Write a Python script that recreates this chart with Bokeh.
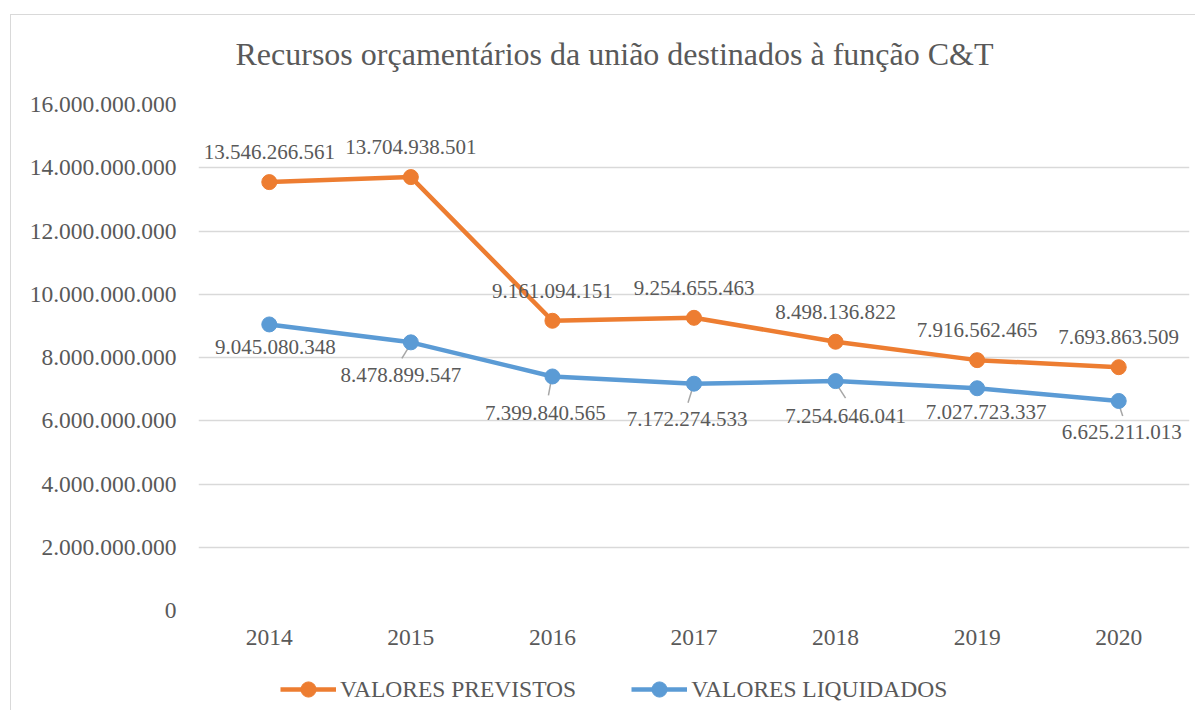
from bokeh.plotting import figure
from bokeh.layouts import column
from bokeh.models import (ColumnDataSource, LabelSet, Label, Legend, LegendItem,
                          Range1d, FixedTicker)
from bokeh.embed import file_html
from bokeh.resources import INLINE
from bokeh.core.properties import value

# ---------------- data ----------------
title_text = "Recursos orçamentários da união destinados à função C&T"
years = ["2014", "2015", "2016", "2017", "2018", "2019", "2020"]
previstos = [13546266561, 13704938501, 9161094151, 9254655463, 8498136822, 7916562465, 7693863509]
liquidados = [9045080348, 8478899547, 7399840565, 7172274533, 7254646041, 7027723337, 6625211013]
series_names = ["VALORES PREVISTOS", "VALORES LIQUIDADOS"]
y_ticks = [0, 2000000000, 4000000000, 6000000000, 8000000000,
           10000000000, 12000000000, 14000000000, 16000000000]

# ---------------- styles / positions ----------------
ORANGE = "#ED7D31"
BLUE = "#5B9BD5"
TXT = "#595959"
GRID = "#D9D9D9"
FONT = "Liberation Serif"

# label offsets in screen px (x right, y up)
prev_dx = [0, 0, 0, 0, 0, 0, 0]
prev_dy = [30, 30, 30, 30, 30, 30, 30]
liq_dx = [6, -10, -7, -7, 10, 9, 3]
liq_dy = [-23, -33, -37, -35, -35, -24, -31]
# leader lines (index, start dx, start dy-down, end dx, end dy-down) in px
leaders = [(1, -1, 3, -9, 16), (2, -1, 3, -4, 19), (3, -1, 3, -6, 19),
           (4, 1, 3, 10, 17), (6, 0, 3, 4, 15)]


def fmt(v):
    return f"{int(v):,}".replace(",", ".")


W = 1184
ML, MR, MT, MB = 187, 6, 20, 45
FRAME_H = 506
H = MT + FRAME_H + MB
HT = 69   # title strip
HL = 55   # legend strip
YMAX = y_ticks[-1]
frame_w = W - ML - MR
x_per_px = 7.0 / frame_w
y_per_px = YMAX / FRAME_H

xs = list(range(len(years)))


def strip(height):
    f = figure(width=W, height=height, output_backend="svg", toolbar_location=None,
               x_range=Range1d(0, 1), y_range=Range1d(0, 1),
               min_border=0, min_border_left=0, min_border_right=0,
               min_border_top=0, min_border_bottom=0)
    f.axis.visible = False
    f.grid.visible = False
    f.outline_line_color = None
    f.background_fill_color = "white"
    f.border_fill_color = "white"
    return f


# ---------------- title strip ----------------
p0 = strip(HT)
p0.add_layout(Label(x=37, y=31, x_units="screen", y_units="screen",
                    text=title_text, text_font=FONT, text_font_size="32px",
                    text_color=TXT, text_align="left", text_baseline="middle"))

# ---------------- main chart ----------------
p = figure(width=W, height=H, output_backend="svg", toolbar_location=None,
           x_range=Range1d(-0.5, len(years) - 0.5), y_range=Range1d(0, YMAX),
           min_border_left=ML, min_border_right=MR, min_border_top=MT,
           min_border_bottom=MB)
p.outline_line_color = None
p.background_fill_color = "white"
p.border_fill_color = "white"

# axes
p.xaxis.ticker = FixedTicker(ticks=xs)
p.xaxis.major_label_overrides = {i: y for i, y in enumerate(years)}
p.yaxis.ticker = FixedTicker(ticks=y_ticks)
p.yaxis.major_label_overrides = {t: fmt(t) for t in y_ticks}
for ax in (p.xaxis[0], p.yaxis[0]):
    ax.axis_line_color = None
    ax.major_tick_line_color = None
    ax.minor_tick_line_color = None
    ax.major_tick_out = 0
    ax.major_tick_in = 0
    ax.major_label_text_font = FONT
    ax.major_label_text_font_size = "23.5px"
    ax.major_label_text_color = TXT
p.yaxis.major_label_standoff = 22
p.xaxis.major_label_standoff = 19
p.xgrid.grid_line_color = None
p.ygrid.grid_line_color = GRID
p.ygrid.grid_line_width = 1.3
p.ygrid.ticker = FixedTicker(ticks=y_ticks)

# leader lines
lx0, ly0, lx1, ly1 = [], [], [], []
for i, sdx, sdy, edx, edy in leaders:
    lx0.append(xs[i] + sdx * x_per_px)
    ly0.append(liquidados[i] - sdy * y_per_px)
    lx1.append(xs[i] + edx * x_per_px)
    ly1.append(liquidados[i] - edy * y_per_px)
p.segment(x0=lx0, y0=ly0, x1=lx1, y1=ly1, line_color="#A6A6A6", line_width=1.5)

src_p = ColumnDataSource(dict(x=xs, y=previstos, t=[fmt(v) for v in previstos],
                              dx=prev_dx, dy=prev_dy))
src_l = ColumnDataSource(dict(x=xs, y=liquidados, t=[fmt(v) for v in liquidados],
                              dx=liq_dx, dy=liq_dy))

p.line("x", "y", source=src_p, line_color=ORANGE, line_width=4.5, line_join="round")
p.scatter("x", "y", source=src_p, size=15, fill_color=ORANGE, line_color=ORANGE)
p.line("x", "y", source=src_l, line_color=BLUE, line_width=4.5, line_join="round")
p.scatter("x", "y", source=src_l, size=15, fill_color=BLUE, line_color=BLUE)

for src in (src_p, src_l):
    ls = LabelSet(x="x", y="y", text="t", x_offset="dx", y_offset="dy", source=src,
                  text_font=value(FONT), text_font_size=value("21px"),
                  text_color=TXT, text_align="center", text_baseline="middle")
    p.add_layout(ls)

# ---------------- legend strip ----------------
p2 = strip(HL)
nan = [float("nan")]
l1 = p2.line(nan, nan, line_color=ORANGE, line_width=4.5)
l1s = p2.scatter(nan, nan, size=15, fill_color=ORANGE, line_color=ORANGE)
l2 = p2.line(nan, nan, line_color=BLUE, line_width=4.5)
l2s = p2.scatter(nan, nan, size=15, fill_color=BLUE, line_color=BLUE)
legend = Legend(items=[LegendItem(label=series_names[0], renderers=[l1, l1s]),
                       LegendItem(label=series_names[1], renderers=[l2, l2s])],
                orientation="horizontal", location=(82, 2),
                glyph_width=56, glyph_height=38, label_standoff=4, spacing=55,
                padding=0, margin=0, border_line_color=None,
                background_fill_alpha=0,
                label_text_font=FONT, label_text_font_size="23.5px",
                label_text_color=TXT)
p2.add_layout(legend, "center")

layout = column(p0, p, p2, spacing=0)
layout.styles = {"margin-left": "10px", "margin-top": "14px",
                 "border-left": "1px solid #D9D9D9", "border-top": "1px solid #D9D9D9"}

open("out.html", "w").write(file_html(layout, INLINE))
